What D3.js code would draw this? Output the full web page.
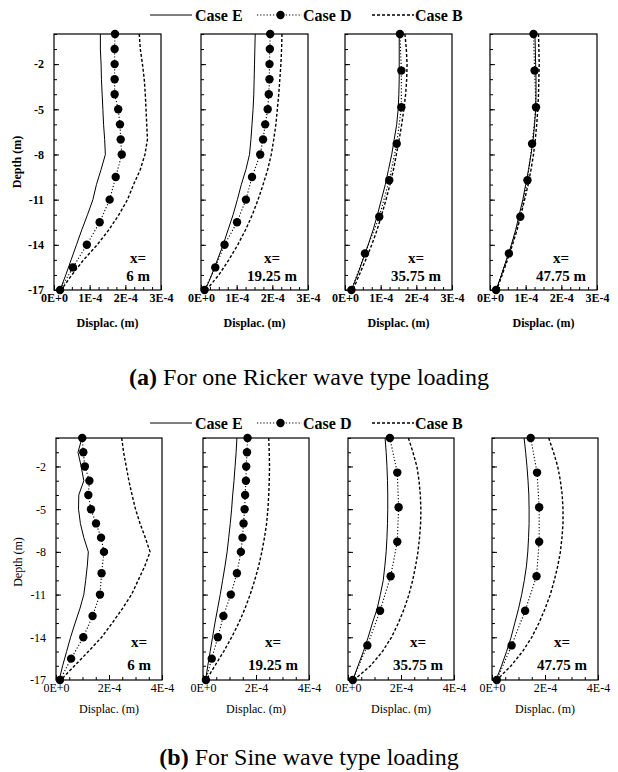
<!DOCTYPE html>
<html><head><meta charset="utf-8">
<script src="https://cdn.jsdelivr.net/npm/d3@7"></script>
<style>
body{margin:0;background:#fff}
svg text{font-family:"Liberation Serif","Times New Roman",serif;fill:#000}
</style>
</head><body><svg id="c" width="618" height="772"></svg>
<script>
// ---------- DATA (displacements in units of 1E-4 m, depths in m) ----------
const lineDepths = [0,-1,-2,-3,-4,-5,-6,-7,-8,-9,-10,-11,-12,-13,-14,-15,-16,-17];
const dotDepthsDense = [0,-1,-2,-3,-4,-5,-6,-7,-8,-9.5,-11,-12.5,-14,-15.5,-17];
const dotDepthsSparse = [0,-2.43,-4.86,-7.29,-9.71,-12.14,-14.57,-17];
const locations = ["6 m","19.25 m","35.75 m","47.75 m"];
const caseNames = ["Case E","Case D","Case B"];
const depthMajorTicks = [-2,-5,-8,-11,-14,-17];
const depthTickLabels = ["-2","-5","-8","-11","-14","-17"];
const rickerXTicks = [0,1,2,3];
const rickerXTickLabels = ["0E+0","1E-4","2E-4","3E-4"];
const sineXTicks = [0,2,4];
const sineXTickLabels = ["0E+0","2E-4","4E-4"];

// (a) Ricker wave loading
const rickerE = [
  [1.30,1.30,1.32,1.33,1.35,1.37,1.39,1.42,1.44,1.32,1.19,1.09,0.94,0.78,0.63,0.48,0.33,0.17],
  [1.52,1.51,1.50,1.49,1.48,1.46,1.43,1.40,1.36,1.26,1.13,1.02,0.90,0.76,0.62,0.46,0.30,0.12],
  [1.52,1.52,1.52,1.52,1.51,1.49,1.45,1.38,1.31,1.22,1.13,1.02,0.91,0.79,0.65,0.50,0.35,0.18],
  [1.26,1.27,1.28,1.29,1.29,1.28,1.25,1.21,1.15,1.08,1.00,0.92,0.82,0.72,0.60,0.46,0.32,0.17]
];
const rickerD = [
  [1.71,1.70,1.70,1.70,1.70,1.80,1.85,1.87,1.90,1.73,1.56,1.28,0.92,0.53,0.17],
  [1.94,1.93,1.92,1.92,1.90,1.87,1.80,1.74,1.66,1.43,1.26,1.01,0.66,0.40,0.10],
  [1.54,1.58,1.58,1.45,1.24,0.96,0.56,0.18],
  [1.22,1.25,1.29,1.18,1.05,0.85,0.53,0.17]
];
const rickerB = [
  [2.39,2.42,2.48,2.53,2.56,2.58,2.60,2.62,2.55,2.42,2.23,2.06,1.82,1.54,1.21,0.83,0.50,0.20],
  [2.27,2.26,2.24,2.21,2.18,2.14,2.10,2.04,1.97,1.87,1.74,1.60,1.44,1.25,1.03,0.78,0.50,0.15],
  [1.68,1.72,1.74,1.73,1.70,1.65,1.59,1.52,1.44,1.36,1.26,1.15,1.03,0.90,0.75,0.58,0.40,0.22],
  [1.36,1.37,1.38,1.37,1.36,1.34,1.31,1.27,1.22,1.15,1.07,0.97,0.87,0.76,0.63,0.49,0.34,0.19]
];
// (b) Sine wave loading
const sineE = [
  [0.98,0.83,0.95,1.05,0.86,0.85,0.92,1.05,1.22,1.18,1.12,1.05,0.90,0.72,0.55,0.40,0.25,0.12],
  [1.28,1.25,1.21,1.17,1.12,1.08,1.03,0.97,0.91,0.83,0.74,0.65,0.55,0.45,0.36,0.27,0.18,0.10],
  [1.40,1.44,1.47,1.49,1.50,1.50,1.49,1.47,1.44,1.39,1.33,1.22,1.10,0.92,0.76,0.58,0.38,0.18],
  [1.21,1.27,1.32,1.36,1.39,1.40,1.40,1.38,1.35,1.30,1.22,1.12,1.00,0.86,0.72,0.55,0.36,0.15]
];
const sineD = [
  [0.99,1.03,1.09,1.26,1.22,1.32,1.51,1.70,1.81,1.72,1.66,1.38,1.03,0.57,0.15],
  [1.68,1.66,1.63,1.62,1.59,1.57,1.53,1.49,1.43,1.28,1.05,0.77,0.56,0.33,0.11],
  [1.58,1.86,1.91,1.86,1.61,1.21,0.73,0.18],
  [1.46,1.70,1.78,1.78,1.68,1.25,0.74,0.18]
];
const sineB = [
  [2.48,2.55,2.65,2.75,2.87,3.00,3.17,3.37,3.55,3.35,3.10,2.85,2.50,2.12,1.72,1.22,0.70,0.18],
  [2.48,2.50,2.51,2.50,2.48,2.45,2.40,2.32,2.22,2.10,1.95,1.78,1.58,1.35,1.08,0.78,0.45,0.12],
  [2.28,2.45,2.60,2.68,2.73,2.75,2.74,2.70,2.64,2.55,2.44,2.30,2.12,1.90,1.64,1.30,0.85,0.22],
  [2.14,2.32,2.48,2.58,2.65,2.68,2.68,2.64,2.58,2.48,2.35,2.20,2.00,1.77,1.50,1.15,0.72,0.18]
];

// ---------- DRAWING ----------
const svg = d3.select("#c");
const styles = {
  E: {dash: null, width: 1.0},
  D: {dash: "1.2,2", width: 1.1},
  B: {dash: "3,2", width: 1.4}
};
const SERIF = '"Liberation Serif", "Times New Roman", serif';

function drawPanel(cfg) {
  const {left, top, w, h, xMax, xTicks, xTickLabels, minorStep, E, D, dDepths, B, loc, showY, bold} = cfg;
  const g = svg.append("g").attr("transform", `translate(${left},${top})`);
  const x = d3.scaleLinear().domain([0, xMax]).range([0, w]);
  const y = d3.scaleLinear().domain([0, -17]).range([0, h]);

  const minorY = d3.range(0, -18, -1);
  g.append("g").call(d3.axisLeft(y).tickValues(minorY).tickSize(-3).tickFormat(""))
    .call(a => a.select(".domain").remove());
  const yAx = g.append("g").call(d3.axisLeft(y).tickValues(depthMajorTicks).tickSize(-5).tickPadding(10)
      .tickFormat((d,i) => showY ? depthTickLabels[i] : ""));
  yAx.select(".domain").remove();
  yAx.selectAll("text").style("font-size", "12px").style("font-weight", bold ? "bold" : "normal")
     .style("font-family", SERIF);

  const minorX = d3.range(0, xMax + 1e-9, minorStep);
  g.append("g").attr("transform", `translate(0,${h})`)
    .call(d3.axisBottom(x).tickValues(minorX).tickSize(-3).tickFormat(""))
    .call(a => a.select(".domain").remove());
  const xAx = g.append("g").attr("transform", `translate(0,${h})`)
    .call(d3.axisBottom(x).tickValues(xTicks).tickSize(-5).tickPadding(3)
      .tickFormat((d,i) => xTickLabels[i]));
  xAx.select(".domain").remove();
  xAx.selectAll("text").style("font-size", "12px").style("font-weight", bold ? "bold" : "normal")
     .style("font-family", SERIF);

  g.append("rect").attr("x", 0).attr("y", 0).attr("width", w).attr("height", h)
    .attr("fill", "none").attr("stroke", "#000").attr("stroke-width", 1.2);

  const line = d3.line().x(d => x(d[0])).y(d => y(d[1]));
  const addLine = (vals, depths, st) => g.append("path")
      .attr("d", line(vals.map((v, i) => [v, depths[i]])))
      .attr("fill", "none").attr("stroke", "#000")
      .attr("stroke-width", st.width).attr("stroke-dasharray", st.dash);
  addLine(B, lineDepths, styles.B);
  addLine(E, lineDepths, styles.E);
  addLine(D, dDepths, styles.D);
  g.selectAll(".dot").data(D.map((v, i) => [v, dDepths[i]])).enter().append("circle")
    .attr("cx", d => x(d[0])).attr("cy", d => y(d[1])).attr("r", 4.2).attr("fill", "#000");

  const valText = g.append("text").attr("x", w - 11).attr("y", h - (bold ? 9 : 10))
    .attr("text-anchor", "end").style("font-size", "15px").style("font-weight", "bold").text(loc);
  const tw = valText.node().getComputedTextLength();
  g.append("text").attr("x", w - 11 - tw / 2).attr("y", h - (bold ? 27 : 33))
    .attr("text-anchor", "middle").style("font-size", "15px").style("font-weight", "bold").text("x=");

  g.append("text").attr("x", w / 2).attr("y", h + (bold ? 37 : 33)).attr("text-anchor", "middle")
    .style("font-size", "12px").style("font-weight", bold ? "bold" : "normal").text("Displac. (m)");
}

function drawLegend(yc) {
  const xs = [{l0:150, l1:192, t:195}, {l0:257, l1:302, t:303}, {l0:372, l1:414, t:415}];
  const keys = ["E","D","B"];
  caseNames.forEach((name, i) => {
    const p = xs[i], st = styles[keys[i]];
    svg.append("line").attr("x1", p.l0).attr("x2", p.l1).attr("y1", yc).attr("y2", yc)
      .attr("stroke", "#000").attr("stroke-width", st.width).attr("stroke-dasharray", st.dash);
    if (keys[i] === "D") svg.append("circle").attr("cx", (p.l0 + p.l1) / 2 + 1).attr("cy", yc).attr("r", 4.2).attr("fill", "#000");
    svg.append("text").attr("x", p.t).attr("y", yc + 6).style("font-size", "16px").style("font-weight", "bold").text(name);
  });
}

function drawTitle(y, tag, rest) {
  const t = svg.append("text").attr("x", 309).attr("y", y).attr("text-anchor", "middle").style("font-size", "24px");
  t.append("tspan").style("font-weight", "bold").text(tag);
  t.append("tspan").text(rest);
}

function drawYLabel(x, yc, bold) {
  svg.append("text").attr("transform", `translate(${x},${yc}) rotate(-90)`).attr("text-anchor", "middle")
    .style("font-size", "12px").style("font-weight", bold ? "bold" : "normal").text("Depth (m)");
}

// Row (a)
drawLegend(15);
const topLefts = [54, 201, 345, 490];
topLefts.forEach((l, i) => drawPanel({
  left: l, top: 34, w: 107, h: 256, xMax: 3, xTicks: rickerXTicks, xTickLabels: rickerXTickLabels,
  minorStep: 0.25, E: rickerE[i], D: rickerD[i], dDepths: i < 2 ? dotDepthsDense : dotDepthsSparse,
  B: rickerB[i], loc: locations[i], showY: i === 0, bold: true
}));
drawYLabel(21, 162, true);
drawTitle(385, "(a)", " For one Ricker wave type loading");

// Row (b)
drawLegend(423);
const botLefts = [56, 203, 348, 492];
botLefts.forEach((l, i) => drawPanel({
  left: l, top: 438, w: 106, h: 242, xMax: 4, xTicks: sineXTicks, xTickLabels: sineXTickLabels,
  minorStep: 0.5, E: sineE[i], D: sineD[i], dDepths: i < 2 ? dotDepthsDense : dotDepthsSparse,
  B: sineB[i], loc: locations[i], showY: i === 0, bold: false
}));
drawYLabel(22, 562, false);
drawTitle(765, "(b)", " For Sine wave type loading");
</script>
</body></html>
